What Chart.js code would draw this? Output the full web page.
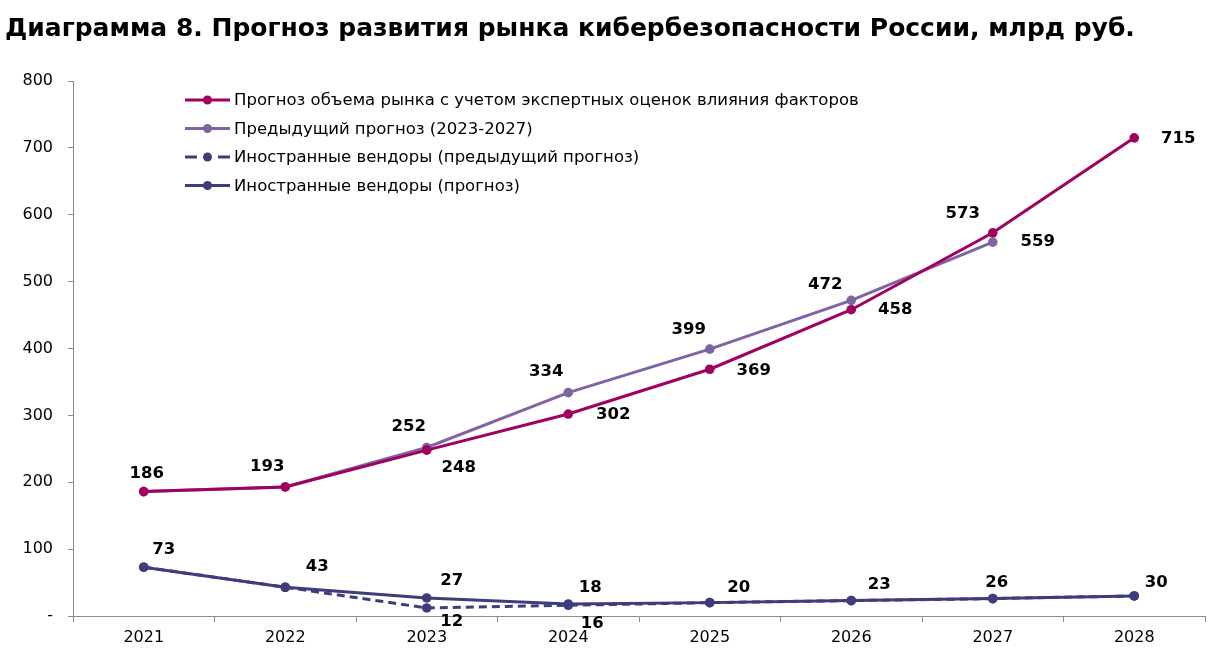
<!DOCTYPE html>
<html>
<head>
<meta charset="utf-8">
<script src="https://cdn.jsdelivr.net/npm/chart.js@4.4.1/dist/chart.umd.min.js"></script>
<style>
    html, body { margin: 0; padding: 0; background: #fff; }
    #wrap { width: 1222px; height: 657px; }
</style>
</head>
<body>
<div id="wrap"><canvas id="market"></canvas></div>
<script>
// data
const years = ['2021', '2022', '2023', '2024', '2025', '2026', '2027', '2028'];
const forecastMarket = [186, 193, 248, 302, 369, 458, 573, 715];
const prevForecast = [186, 193, 252, 334, 399, 472, 559, null];
const foreignPrev = [73, 43, 12, 16, 20, 23, 26, 30];
const foreignForecast = [73, 43, 27, 18, 20, 23, 26, 30];
const yTicks = [0, 100, 200, 300, 400, 500, 600, 700, 800];

const seriesNames = [
    'Прогноз объема рынка с учетом экспертных оценок влияния факторов',
    'Предыдущий прогноз (2023-2027)',
    'Иностранные вендоры (предыдущий прогноз)',
    'Иностранные вендоры (прогноз)'
];

const FONT = '"DejaVu Sans", sans-serif';
const C_MARKET = '#A2005E';
const C_PREV = '#8064A2';
const C_FOREIGN = '#3E3D7C';

// value label plugin: offsets live on each dataset (null = no label)
const valueLabels = {
    id: 'valueLabels',
    afterDatasetsDraw(chart) {
        let ctx = chart.ctx;
        ctx.save();
        ctx.font = 'bold 16.5px ' + FONT;
        ctx.fillStyle = '#000';
        ctx.textAlign = 'center';
        ctx.textBaseline = 'middle';
        chart.data.datasets.forEach(function(ds, i) {
            if (!ds.labelOffsets) return;
            let meta = chart.getDatasetMeta(i);
            meta.data.forEach(function(pt, j) {
                let off = ds.labelOffsets[j];
                if (!off || ds.data[j] == null) return;
                ctx.fillText(String(ds.data[j]), pt.x + off[0], pt.y + off[1]);
            });
        });
        ctx.restore();
    }
};

// title + legend drawn inside the plot area
const titleLegend = {
    id: 'titleLegend',
    afterDraw(chart) {
        let ctx = chart.ctx;
        ctx.save();
        ctx.fillStyle = '#000';
        ctx.font = 'bold 25px ' + FONT;
        ctx.textBaseline = 'middle';
        ctx.textAlign = 'left';
        ctx.fillText('Диаграмма 8. Прогноз развития рынка кибербезопасности России, млрд руб.', 5, 29);

        let rows = [
            {color: C_MARKET, dash: false},
            {color: C_PREV, dash: false},
            {color: C_FOREIGN, dash: true},
            {color: C_FOREIGN, dash: false}
        ];
        let x0 = 185, x1 = 230, y = 100;
        ctx.font = '16.5px ' + FONT;
        rows.forEach(function(r, i) {
            let yy = y + i * 28.5;
            ctx.strokeStyle = r.color;
            ctx.lineWidth = 3;
            ctx.beginPath();
            if (r.dash) {
                ctx.moveTo(x0, yy); ctx.lineTo(x0 + 12, yy);
                ctx.moveTo(x1 - 12, yy); ctx.lineTo(x1, yy);
            } else {
                ctx.moveTo(x0, yy); ctx.lineTo(x1, yy);
            }
            ctx.stroke();
            ctx.fillStyle = r.color;
            ctx.beginPath();
            ctx.arc((x0 + x1) / 2, yy, 4.5, 0, Math.PI * 2);
            ctx.fill();
            ctx.fillStyle = '#000';
            ctx.fillText(seriesNames[i], 234, yy + 1);
        });
        ctx.restore();
    }
};

function line_chart(canvas) {
    let data_market = {
        labels: years,
        datasets: [
            {
                label: seriesNames[0],
                data: forecastMarket,
                borderColor: C_MARKET,
                backgroundColor: C_MARKET,
                labelOffsets: [null, null, [32, 18], [45, 1], [44, 1], [44, 0], [-30, -19], [44, 1]]
            },
            {
                label: seriesNames[1],
                data: prevForecast,
                borderColor: C_PREV,
                backgroundColor: C_PREV,
                labelOffsets: [[3, -18], [-18, -20], [-18, -21], [-22, -21], [-21, -19], [-26, -16], [45, 0], null]
            },
            {
                label: seriesNames[3],
                data: foreignForecast,
                borderColor: C_FOREIGN,
                backgroundColor: C_FOREIGN,
                labelOffsets: [[20, -17], [32, -21], [25, -17], [22, -16], [29, -15], [28, -16], [4, -16], [22, -13]]
            },
            {
                label: seriesNames[2],
                data: foreignPrev,
                borderColor: C_FOREIGN,
                backgroundColor: C_FOREIGN,
                borderDash: [8, 5],
                labelOffsets: [null, null, [25, 14], [24, 18], null, null, null, null]
            }
        ]
    };
    let config_market = {
        type: 'line',
        data: data_market,
        plugins: [valueLabels, titleLegend],
        options: {
            responsive: false,
            animation: false,
            layout: { padding: { top: 81, right: 17, left: 0, bottom: 0 } },
            elements: {
                line: { borderWidth: 3, tension: 0 },
                point: { radius: 4.8, borderWidth: 0, hoverRadius: 4.8 }
            },
            plugins: {
                legend: { display: false },
                title: { display: false },
                tooltip: { enabled: false }
            },
            scales: {
                x: {
                    offset: true,
                    border: { color: '#8c8c8c', width: 1 },
                    grid: { offset: true, drawOnChartArea: false, tickLength: 6, color: '#8c8c8c' },
                    ticks: { color: '#000', font: { family: FONT, size: 16 }, padding: 6 },
                    afterFit: function(scale) { scale.height = 41; }
                },
                y: {
                    min: 0,
                    max: 800,
                    afterBuildTicks: function(scale) {
                        scale.ticks = yTicks.map(function(v) { return {value: v}; });
                    },
                    border: { color: '#8c8c8c', width: 1 },
                    grid: { drawOnChartArea: false, tickLength: 5, color: '#8c8c8c' },
                    ticks: {
                        color: '#000',
                        font: { family: FONT, size: 16 },
                        padding: 15,
                        callback: function(v) { return v === 0 ? '-' : v; }
                    },
                    afterFit: function(scale) { scale.width = 73; }
                }
            }
        }
    };
    let market_chart = new Chart(canvas, config_market);
}

let cv = document.getElementById('market');
cv.width = 1222;
cv.height = 657;
line_chart(cv);
</script>
</body>
</html>
